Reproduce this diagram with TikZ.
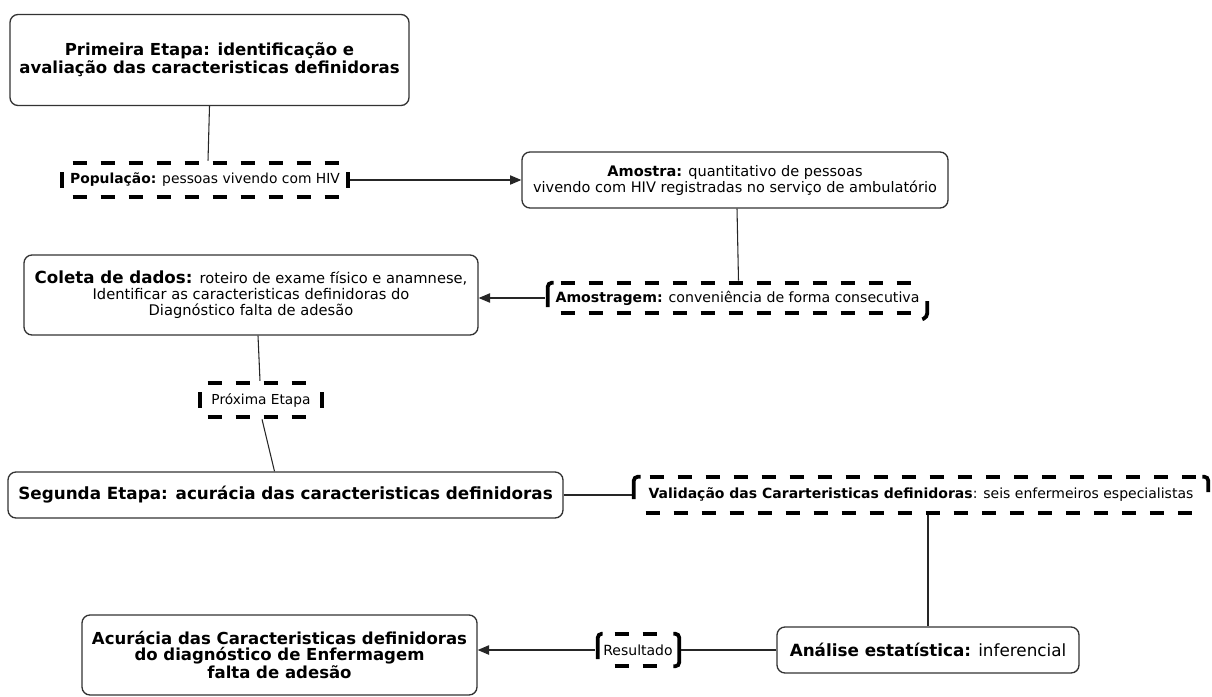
\documentclass[tikz,border=0pt]{standalone}
\usepackage{fontspec}
\setmainfont{DejaVu Sans}
\usetikzlibrary{arrows.meta,calc}
\newcommand{\fs}[2]{\fontsize{#1}{#2}\selectfont}
\begin{document}
\begin{tikzpicture}[x=0.75pt,y=-0.75pt,
  box/.style={draw=black!80, line width=1pt, rounded corners=6pt, align=center, inner sep=0pt, fill=white},
  dnode/.style={align=center, inner sep=0pt},
  dl/.style={line width=2.8pt, dash pattern=on 10.5pt off 10.5pt},
  bar/.style={line width=2.8pt, rounded corners=3pt},
  conn/.style={line width=0.8pt, draw=black!85},
  arr/.style={conn, -{Triangle[length=8.5pt,width=7pt]}}]
\useasboundingbox (0,0) rectangle (1212,696);

% ---------- nodes ----------
\node[box, minimum width=299.25pt, minimum height=68.25pt] (p1) at (209.5,60)
  {\fs{12.4}{20}\bfseries Primeira Etapa: identificação e\\ \fs{12.4}{20}\bfseries avaliação das caracteristicas definidoras};

\node[dnode, minimum width=217.5pt, minimum height=25.5pt] (pop) at (205,180)
  {\fs{10.4}{14}\textbf{População:} pessoas vivendo com HIV};

\node[box, minimum width=319.5pt, minimum height=42pt] (amostra) at (735,180)
  {\fs{10.9}{15}\textbf{Amostra:} quantitativo de pessoas\\ \fs{10.9}{15}vivendo com HIV registradas no serviço de ambulatório};

\node[dnode, minimum width=288.75pt, minimum height=22.5pt] (amostragem) at (737.5,298)
  {\fs{10.6}{14}\textbf{Amostragem:} conveniência de forma consecutiva};

\node[box, minimum width=340.5pt, minimum height=60pt] (coleta) at (251,295)
  {\fs{12.5}{17}\textbf{Coleta de dados:} \fs{11}{17}roteiro de exame físico e anamnese,\\ \fs{11}{17}Identificar as caracteristicas definidoras do\\ \fs{11}{17}Diagnóstico falta de adesão};

\node[dnode, minimum width=94.5pt, minimum height=25.5pt] (prox) at (261,400)
  {\fs{10.3}{14}Próxima Etapa};

\node[box, minimum width=416.25pt, minimum height=34.5pt] (segunda) at (285.5,495)
  {\fs{12.6}{17}\bfseries Segunda Etapa: acurácia das caracteristicas definidoras};

\node[dnode, minimum width=433.5pt, minimum height=27pt] (valid) at (921,495)
  {\fs{10.5}{14}\textbf{Validação das Cararteristicas definidoras}: seis enfermeiros especialistas};

\node[box, minimum width=226.5pt, minimum height=34.5pt] (analise) at (928,650)
  {\fs{12.6}{17}\textbf{Análise estatística:} inferencial};

\node[dnode, minimum width=64.5pt, minimum height=25.5pt] (result) at (638,650)
  {\fs{10.5}{14}Resultado};

\node[box, minimum width=296.25pt, minimum height=60pt] (acur) at (279.5,655)
  {\fs{12.4}{16}\bfseries Acurácia das Caracteristicas definidoras\\ \fs{12.4}{16}\bfseries do diagnóstico de Enfermagem\\ \fs{12.4}{16}\bfseries falta de adesão};

% ---------- dashed outlines ----------
% População
\draw[dl] ($(pop.north west)+(13,0)$) -- ++(266,0);
\draw[dl] ($(pop.south west)+(13,0)$) -- ++(266,0);
\draw[bar] ($(pop.west)+(2,-8)$) -- ($(pop.west)+(2,8)$);
\draw[bar] ($(pop.east)+(-2,-8)$) -- ($(pop.east)+(-2,8)$);
% Próxima Etapa
\draw[dl] ($(prox.north west)+(10,0)$) -- ++(98,0);
\draw[dl] ($(prox.south west)+(10,0)$) -- ++(98,0);
\draw[bar] ($(prox.west)+(2,-8)$) -- ($(prox.west)+(2,8)$);
\draw[bar] ($(prox.east)+(-2,-8)$) -- ($(prox.east)+(-2,8)$);
% Amostragem
\draw[dl] ($(amostragem.north west)+(16,0)$) -- ++(350,0);
\draw[dl] ($(amostragem.south west)+(16,0)$) -- ++(350,0);
\draw[bar] ($(amostragem.west)+(3,9)$) -- ($(amostragem.north west)+(3,0)$) -- ($(amostragem.north west)+(9,0)$);
\draw[bar] ($(amostragem.east)+(-3,3)$) -- ($(amostragem.south east)+(-3,4)$) -- ($(amostragem.south east)+(-8,6)$);
% Validação
\draw[dl] ($(valid.north west)+(18,0)$) -- ++(546,0);
\draw[dl] ($(valid.south west)+(14,0)$) -- ++(546,0);
\draw[bar] ($(valid.west)+(2,4)$) -- ($(valid.north west)+(2,0)$) -- ($(valid.north west)+(9,0)$);
\draw[bar] ($(valid.north east)+(-8,0)$) -- ($(valid.north east)+(-2,0)$) -- ($(valid.east)+(-2,-3)$);
% Resultado
\draw[dl] ($(result.north west)+(20,1)$) -- ++(42,0);
\draw[dl] ($(result.south west)+(20,-1)$) -- ++(42,0);
\draw[bar] ($(result.west)+(3,9)$) -- ($(result.north west)+(3,1)$) -- ($(result.north west)+(8,1)$);
\draw[bar] ($(result.north east)+(-8,1)$) -- ($(result.north east)+(-2,1)$) -- ($(result.south east)+(-2,-1)$) -- ($(result.south east)+(-8,-1)$);

% ---------- connectors ----------
\draw[conn] (p1.south) -- ($(pop.north)+(3,-2)$);
\draw[arr] (pop.east) -- (amostra.west);
\draw[conn] ($(amostra.south)+(2,0)$) -- ($(amostragem.north)+(1,-2)$);
\draw[arr] (amostragem.west) -- (amostragem.west -| coleta.east);
\draw[conn] ($(coleta.south)+(7,0)$) -- ($(prox.north)+(-1,-2)$);
\draw[conn] ($(prox.south)+(1,2)$) -- ($(segunda.north)+(-11,0)$);
\draw[conn] (segunda.east) -- (valid.west);
\draw[conn] ($(valid.south)+(7,2)$) -- (analise.north);
\draw[conn] (analise.west) -- (result.east);
\draw[arr] (result.west) -- (result.west -| acur.east);
\end{tikzpicture}
\end{document}
